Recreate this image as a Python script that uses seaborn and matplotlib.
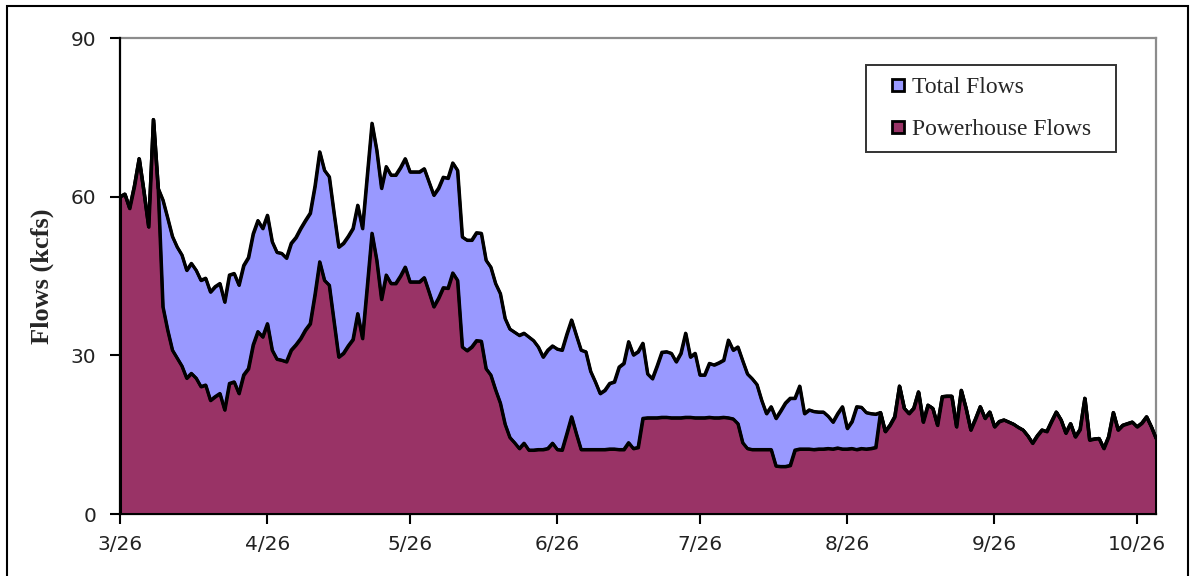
import matplotlib
matplotlib.use("Agg")
from matplotlib import pyplot as plt
from matplotlib import dates as mdates
from matplotlib import patches
from matplotlib.lines import Line2D
from matplotlib.ticker import FuncFormatter
import seaborn as sns
import pandas as pd

start_date = "2008-03-26"

total_flows = [
    60.0, 60.5, 57.8, 62.0, 67.2, 61.0, 54.3, 74.6, 61.6, 59.4,
    56.0, 52.5, 50.5, 49.0, 46.1, 47.4, 46.1, 44.2, 44.6, 42.0,
    43.0, 43.6, 40.1, 45.2, 45.5, 43.3, 47.0, 48.5, 53.0, 55.5,
    54.0, 56.5, 51.5, 49.5, 49.3, 48.4, 51.2, 52.3, 54.0, 55.5,
    56.9, 62.0, 68.5, 65.0, 63.8, 57.0, 50.5, 51.2, 52.5, 54.0,
    58.4, 54.0, 64.0, 73.9, 68.8, 61.6, 65.7, 64.1, 64.1, 65.5,
    67.2, 64.7, 64.7, 64.7, 65.3, 62.8, 60.3, 61.6, 63.7, 63.5,
    66.4, 65.0, 52.4, 51.8, 51.8, 53.2, 53.1, 48.0, 46.7, 43.6,
    41.7, 37.0, 35.0, 34.4, 33.8, 34.2, 33.5, 32.8, 31.6, 29.7,
    31.0, 31.8, 31.2, 31.0, 34.0, 36.7, 33.8, 31.0, 30.7, 27.0,
    25.0, 22.8, 23.4, 24.7, 25.0, 27.8, 28.5, 32.6, 30.1, 30.7,
    32.3, 26.5, 25.6, 28.0, 30.6, 30.7, 30.4, 28.8, 30.4, 34.2,
    29.7, 30.4, 26.3, 26.3, 28.5, 28.2, 28.6, 29.1, 32.9, 31.0,
    31.6, 29.0, 26.5, 25.6, 24.5, 21.5, 19.0, 20.3, 18.1, 19.5,
    21.0, 21.9, 21.9, 24.2, 19.0, 19.7, 19.4, 19.3, 19.3, 18.5,
    17.4, 19.0, 20.3, 16.2, 17.5, 20.3, 20.2, 19.2, 19.0, 18.9,
    19.2, 15.6, 16.8, 18.4, 24.2, 20.0, 19.0, 20.0, 23.1, 17.4,
    20.6, 20.0, 16.8, 22.2, 22.3, 22.3, 16.5, 23.4, 20.0, 15.9,
    18.0, 20.3, 18.1, 19.3, 16.5, 17.5, 17.8, 17.4, 17.0, 16.4,
    15.9, 14.8, 13.4, 14.8, 15.9, 15.6, 17.5, 19.3, 17.8, 15.3,
    17.1, 14.6, 16.0, 21.9, 14.0, 14.2, 14.3, 12.4, 14.6, 19.2,
    15.9, 16.8, 17.1, 17.4, 16.5, 17.2, 18.4, 16.5, 14.3,
]

powerhouse_flows = [
    60.0, 60.5, 57.8, 62.0, 67.2, 61.0, 54.3, 74.6, 61.6, 39.2,
    34.8, 31.0, 29.5, 28.0, 25.7, 26.6, 25.7, 24.1, 24.4, 21.5,
    22.2, 22.8, 19.7, 24.7, 25.0, 22.8, 26.3, 27.5, 32.0, 34.5,
    33.5, 36.0, 31.0, 29.3, 29.1, 28.8, 31.0, 32.0, 33.2, 34.8,
    36.0, 41.5, 47.7, 44.2, 43.3, 36.5, 29.7, 30.4, 31.8, 33.0,
    37.9, 33.2, 43.0, 53.1, 48.0, 40.6, 45.2, 43.6, 43.6, 45.0,
    46.7, 43.9, 43.9, 43.9, 44.7, 42.0, 39.2, 40.8, 42.8, 42.7,
    45.6, 44.2, 31.6, 30.9, 31.6, 32.8, 32.7, 27.5, 26.3, 23.5,
    21.0, 17.0, 14.5, 13.5, 12.4, 13.4, 12.1, 12.1, 12.2, 12.2,
    12.4, 13.4, 12.2, 12.1, 15.2, 18.4, 15.2, 12.2, 12.2, 12.2,
    12.2, 12.2, 12.2, 12.3, 12.3, 12.2, 12.2, 13.5, 12.4, 12.6,
    18.1, 18.2, 18.2, 18.2, 18.3, 18.3, 18.2, 18.2, 18.2, 18.3,
    18.3, 18.2, 18.2, 18.2, 18.3, 18.2, 18.2, 18.3, 18.2, 18.0,
    17.1, 13.5, 12.4, 12.2, 12.2, 12.2, 12.2, 12.2, 9.1, 9.0,
    9.0, 9.2, 12.1, 12.3, 12.3, 12.3, 12.2, 12.3, 12.3, 12.4,
    12.3, 12.5, 12.3, 12.3, 12.4, 12.2, 12.4, 12.3, 12.4, 12.6,
    19.2, 15.6, 16.8, 18.4, 24.2, 20.0, 19.0, 20.0, 23.1, 17.4,
    20.6, 20.0, 16.8, 22.2, 22.3, 22.3, 16.5, 23.4, 20.0, 15.9,
    18.0, 20.3, 18.1, 19.3, 16.5, 17.5, 17.8, 17.4, 17.0, 16.4,
    15.9, 14.8, 13.4, 14.8, 15.9, 15.6, 17.5, 19.3, 17.8, 15.3,
    17.1, 14.6, 16.0, 21.9, 14.0, 14.2, 14.3, 12.4, 14.6, 19.2,
    15.9, 16.8, 17.1, 17.4, 16.5, 17.2, 18.4, 16.5, 14.3,
]

y_ticks = [0, 30, 60, 90]
series_names = ["Total Flows", "Powerhouse Flows"]
series_colors = ["#9999FF", "#993366"]

df = pd.DataFrame({
    "date": pd.date_range(start_date, periods=len(total_flows), freq="D"),
    "total": total_flows,
    "powerhouse": powerhouse_flows,
})

sns.set_style("white")
plt.rcParams["font.family"] = ["DejaVu Sans"]

fig = plt.figure(figsize=(11.94, 5.76), dpi=100)
ax = fig.add_axes([120 / 1194, 1 - 514 / 576, 1036 / 1194, 476 / 576])

# areas, total behind, powerhouse in front
ax.fill_between(df["date"], 0, df["total"], facecolor=series_colors[0],
                edgecolor="black", linewidth=2.2, zorder=2)
ax.fill_between(df["date"], 0, df["powerhouse"], facecolor=series_colors[1],
                edgecolor="black", linewidth=2.2, zorder=3)
sns.lineplot(data=df, x="date", y="total", color="black", linewidth=2.2,
             ax=ax, zorder=4)
sns.lineplot(data=df, x="date", y="powerhouse", color="black", linewidth=2.2,
             ax=ax, zorder=5)

ax.set_xlim(df["date"].iloc[0], df["date"].iloc[-1])
ax.set_ylim(0, 90)
ax.set_yticks(y_ticks)
ax.xaxis.set_major_locator(mdates.DayLocator(bymonthday=26))
ax.xaxis.set_major_formatter(FuncFormatter(
    lambda v, pos: f"{mdates.num2date(v).month}/{mdates.num2date(v).day}"))

ax.tick_params(axis="both", direction="out", length=7, width=1.5,
               color="black", labelsize=14.5, labelcolor="#222222")
ax.tick_params(axis="y", pad=10)
ax.tick_params(axis="x", pad=8)
ax.tick_params(left=True, bottom=True)

for side in ["left", "bottom"]:
    ax.spines[side].set_color("black")
    ax.spines[side].set_linewidth(1.6)
for side in ["top", "right"]:
    ax.spines[side].set_color("#8c8c8c")
    ax.spines[side].set_linewidth(1.6)
    ax.spines[side].set_zorder(1)

ax.set_xlabel("")
ax.set_ylabel("Flows (kcfs)", family=["Liberation Serif"], fontweight="bold",
              fontsize=19)
ax.yaxis.set_label_coords((54 - 120) / 1036, 0.5)

handles = [Line2D([], [], marker="s", markersize=8.5, markerfacecolor=c,
                  markeredgecolor="black", markeredgewidth=2, linestyle="none")
           for c in series_colors]
leg = ax.legend(handles, series_names, loc="upper left",
                bbox_to_anchor=((866 - 120) / 1036, (514 - 65) / 476 - 0.01,
                                250 / 1036, 0.01),
                mode="expand", prop={"family": "Liberation Serif", "size": 17},
                frameon=True, fancybox=False, borderpad=0.5,
                handlelength=1.75, handletextpad=-0.3, labelspacing=0.85,
                borderaxespad=0)
leg.get_frame().set_edgecolor("black")
leg.get_frame().set_linewidth(1.4)

fig.patches.append(patches.Rectangle((7 / 1194, -0.02), 1181 / 1194, 1.02 - 6 / 576,
                                     transform=fig.transFigure, fill=False,
                                     edgecolor="black", linewidth=1.5))

fig.savefig("out.png", dpi=100)
